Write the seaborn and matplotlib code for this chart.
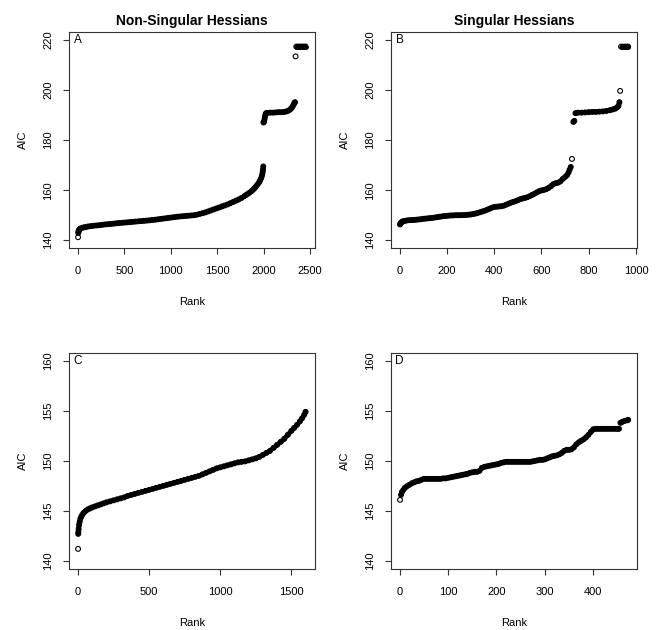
import numpy as np
import pandas as pd
import seaborn as sns
import matplotlib
matplotlib.use("Agg")
import matplotlib.pyplot as plt

a_rank = [1, 3, 5, 8, 12, 18, 25, 35, 50, 70, 90, 110, 140, 170, 200, 230, 260, 290,
          320, 350, 380, 410, 440, 470, 500, 530, 560, 590, 620, 650, 680, 710, 740,
          770, 800, 830, 860, 890, 920, 950, 980, 1010, 1040, 1070, 1100, 1130, 1160,
          1190, 1220, 1250, 1280, 1310, 1340, 1370, 1400, 1430, 1460, 1490, 1520, 1550,
          1580, 1610, 1640, 1670, 1700, 1730, 1760, 1790, 1810, 1830, 1850, 1870, 1890,
          1905, 1920, 1935, 1950, 1960, 1970, 1978, 1984, 1988, 1991, 1994,
          1997, 2000, 2003, 2008, 2013, 2018, 2025, 2040, 2070, 2100, 2130, 2160, 2190,
          2220, 2245, 2265, 2285, 2300, 2312, 2322, 2330, 2336, 2342,
          2350, 2365, 2380, 2395, 2410, 2425, 2440, 2450]
a_aic = [141.2, 142.9, 143.4, 143.8, 144.1, 144.4, 144.6, 144.8, 145.0, 145.2, 145.35,
         145.5, 145.65, 145.8, 145.9, 146.0, 146.15, 146.3, 146.4, 146.5, 146.6, 146.75,
         146.85, 146.95, 147.05, 147.15, 147.25, 147.35, 147.45, 147.55, 147.65, 147.75,
         147.85, 147.95, 148.1, 148.2, 148.35, 148.5, 148.65, 148.8, 148.95, 149.1,
         149.25, 149.4, 149.5, 149.6, 149.7, 149.8, 149.9, 150.0, 150.2, 150.5, 150.8,
         151.1, 151.5, 151.9, 152.3, 152.7, 153.1, 153.5, 153.9, 154.3, 154.8, 155.3,
         155.8, 156.3, 156.9, 157.6, 158.1, 158.6, 159.1, 159.7, 160.4, 161.0, 161.7,
         162.4, 163.2, 163.9, 164.7, 165.5, 166.4, 167.3, 168.2, 169.5,
         187.1, 187.2, 187.5, 188.4, 189.4, 190.3, 190.8, 190.9, 191.0, 191.0, 191.1,
         191.2, 191.2, 191.3, 191.5, 191.8, 192.3, 192.9, 193.6, 194.3, 194.9, 195.2,
         213.5, 217.4, 217.4, 217.4, 217.4, 217.4, 217.4, 217.4, 217.4]

b_rank = [1, 3, 6, 10, 15, 20, 30, 40, 50, 60, 70, 80, 90, 100, 110, 120, 130, 140,
          150, 160, 170, 180, 190, 200, 210, 220, 230, 240, 250, 260, 270, 280, 290,
          300, 310, 320, 330, 340, 350, 360, 370, 380, 390, 400, 410, 420, 430, 440,
          450, 460, 470, 480, 490, 500, 510, 520, 530, 540, 550, 560, 570, 580, 590,
          600, 610, 620, 630, 640, 650, 660, 670, 680, 690, 700, 708, 714, 719, 724, 729,
          735, 739, 744, 755, 770, 785, 800, 815, 830, 845, 860, 875, 890, 902, 912,
          920, 926, 930, 933, 937, 945, 953, 961, 967]
b_aic = [146.3, 146.7, 147.1, 147.4, 147.6, 147.7, 147.9, 148.0, 148.05, 148.1, 148.2,
         148.3, 148.4, 148.55, 148.65, 148.75, 148.85, 148.95, 149.1, 149.25, 149.4,
         149.55, 149.65, 149.75, 149.85, 149.9, 149.95, 150.0, 150.0, 150.0, 150.05,
         150.1, 150.2, 150.3, 150.45, 150.65, 150.9, 151.2, 151.5, 151.8, 152.2, 152.6,
         153.0, 153.3, 153.4, 153.5, 153.6, 153.8, 154.2, 154.6, 155.0, 155.3, 155.6,
         156.0, 156.4, 156.7, 156.9, 157.2, 157.6, 158.1, 158.6, 159.1, 159.6, 159.9,
         160.1, 160.4, 160.9, 161.6, 162.4, 162.8, 163.0, 163.5, 164.5, 165.3, 166.0,
         167.0, 168.2, 169.3, 172.5,
         187.3, 187.7, 190.8, 191.0, 191.0, 191.1, 191.2, 191.3, 191.3, 191.4, 191.5,
         191.7, 192.0, 192.3, 192.6, 193.1, 193.7, 195.2, 199.7,
         217.4, 217.4, 217.4, 217.4, 217.4]

c_rank = [1, 2, 3, 5, 8, 12, 17, 23, 30, 40, 55, 70, 85, 100, 120, 140, 160, 180, 200,
          225, 250, 275, 300, 325, 350, 375, 400, 425, 450, 475, 500, 525, 550, 575,
          600, 625, 650, 675, 700, 725, 750, 775, 800, 825, 850, 875, 900, 925, 950,
          975, 1000, 1025, 1050, 1075, 1100, 1125, 1150, 1175, 1200, 1225, 1250, 1275,
          1300, 1325, 1350, 1375, 1400, 1425, 1450, 1475, 1500, 1520, 1540, 1560, 1575,
          1590, 1600]
c_aic = [141.2, 142.7, 142.9, 143.2, 143.6, 143.9, 144.2, 144.4, 144.6, 144.8, 145.0,
         145.15, 145.25, 145.35, 145.45, 145.55, 145.65, 145.75, 145.85, 145.95, 146.05,
         146.15, 146.25, 146.35, 146.5, 146.6, 146.7, 146.8, 146.9, 147.0, 147.1, 147.2,
         147.3, 147.4, 147.5, 147.6, 147.7, 147.8, 147.9, 148.0, 148.1, 148.2, 148.3,
         148.4, 148.5, 148.65, 148.8, 148.95, 149.1, 149.25, 149.35, 149.45, 149.55,
         149.65, 149.75, 149.85, 149.9, 149.95, 150.05, 150.15, 150.25, 150.4, 150.6,
         150.8, 151.0, 151.3, 151.6, 151.9, 152.2, 152.6, 153.0, 153.3, 153.6, 153.95,
         154.25, 154.6, 154.9]

d_rank = [1, 3, 5, 8, 11, 15, 20, 25, 30, 35, 40, 45, 50, 55, 60, 65, 70, 75, 80, 85,
          90, 95, 100, 105, 110, 115, 120, 125, 130, 135, 140, 145, 150, 155, 160, 165,
          170, 175, 180, 185, 190, 195, 200, 205, 210, 215, 220, 225, 230, 235, 240,
          245, 250, 255, 260, 265, 270, 275, 280, 285, 290, 295, 300, 305, 310, 315,
          320, 325, 330, 335, 340, 345, 350, 355, 360, 365, 370, 375, 380, 385, 390,
          395, 400, 405, 410, 415, 420, 425, 430, 435, 440, 445, 450, 453, 456, 460,
          465, 470, 472]
d_aic = [146.1, 146.6, 146.9, 147.1, 147.3, 147.45, 147.6, 147.75, 147.85, 147.95,
         148.0, 148.1, 148.2, 148.2, 148.2, 148.2, 148.2, 148.2, 148.2, 148.2, 148.25,
         148.25, 148.3, 148.35, 148.4, 148.45, 148.5, 148.55, 148.6, 148.65, 148.7,
         148.8, 148.85, 148.9, 148.9, 149.0, 149.3, 149.4, 149.45, 149.5, 149.55, 149.6,
         149.65, 149.7, 149.8, 149.85, 149.9, 149.9, 149.9, 149.9, 149.9, 149.9, 149.9,
         149.9, 149.9, 149.9, 149.9, 149.95, 150.0, 150.05, 150.1, 150.1, 150.15,
         150.25, 150.35, 150.45, 150.5, 150.55, 150.65, 150.8, 151.0, 151.1, 151.1,
         151.15, 151.35, 151.65, 151.85, 152.0, 152.15, 152.35, 152.6, 152.9, 153.15,
         153.2, 153.2, 153.2, 153.2, 153.2, 153.2, 153.2, 153.2, 153.2, 153.2, 153.2,
         153.8, 153.9, 154.0, 154.05, 154.1]

titles = ["Non-Singular Hessians", "Singular Hessians", "", ""]
letters = ["A", "B", "C", "D"]

sns.set_style("white")
plt.rcParams['font.family'] = ['Liberation Sans', 'DejaVu Sans']
plt.rcParams['text.color'] = 'black'
plt.rcParams['axes.labelcolor'] = 'black'
plt.rcParams['xtick.color'] = 'black'
plt.rcParams['ytick.color'] = 'black'

fig = plt.figure(figsize=(6.57, 6.30), dpi=100)
boxes = [[0.105, 0.606, 0.374, 0.343], [0.595, 0.606, 0.375, 0.343],
         [0.105, 0.097, 0.374, 0.343], [0.595, 0.097, 0.375, 0.343]]
panels = [(a_rank, a_aic), (b_rank, b_aic), (c_rank, c_aic), (d_rank, d_aic)]


def r_lim(lo, hi):
    pad = (hi - lo) * 0.04
    return lo - pad, hi + pad


for i, (rank, aic) in enumerate(panels):
    ax = fig.add_axes(boxes[i])
    df = pd.DataFrame({'Rank': rank, 'AIC': aic})
    lo, hi = (140, 220) if i < 2 else (140, 160)
    # the points are packed so tight they read as a solid band; break it at the jumps
    gap = df['AIC'].diff().fillna(0) > 0.021 * (hi - lo)
    df['seg'] = gap.cumsum()
    sns.lineplot(data=df, x='Rank', y='AIC', units='seg', estimator=None, sort=False,
                 ax=ax, color='black', linewidth=3.4, solid_capstyle='round',
                 solid_joinstyle='round')
    sns.scatterplot(data=df, x='Rank', y='AIC', ax=ax, marker='o', s=12,
                    facecolor='none', edgecolor='black', linewidth=0.8)
    ax.set_xlim(*r_lim(1, max(rank)))
    ax.set_ylim(*r_lim(lo, hi))
    if i < 2:
        ax.set_yticks([140, 160, 180, 200, 220])
    else:
        ax.set_yticks([140, 145, 150, 155, 160])
    ax.text(0, hi, letters[i], ha='center', va='center', fontsize=8.5)
    if i == 0:
        ax.set_xticks([0, 500, 1000, 1500, 2000, 2500])
    elif i == 1:
        ax.set_xticks([0, 200, 400, 600, 800, 1000])
    elif i == 2:
        ax.set_xticks([0, 500, 1000, 1500])
    else:
        ax.set_xticks([0, 100, 200, 300, 400])
    for sp in ax.spines.values():
        sp.set_color('#333333')
        sp.set_linewidth(0.8)
    ax.tick_params(axis='both', direction='out', length=4.3, width=0.8,
                   color='#333333', labelsize=8, bottom=True, left=True)
    ax.tick_params(axis='x', pad=8.5)
    ax.tick_params(axis='y', pad=7)
    for lab in ax.get_yticklabels():
        lab.set_rotation(90)
        lab.set_va('center')
    ax.set_xlabel('Rank', fontsize=8, labelpad=15)
    ax.set_ylabel('AIC', fontsize=8, labelpad=11)
    if titles[i]:
        ax.set_title(titles[i], fontsize=10, fontweight='bold', pad=5)

plt.savefig('out.png', dpi=100)
